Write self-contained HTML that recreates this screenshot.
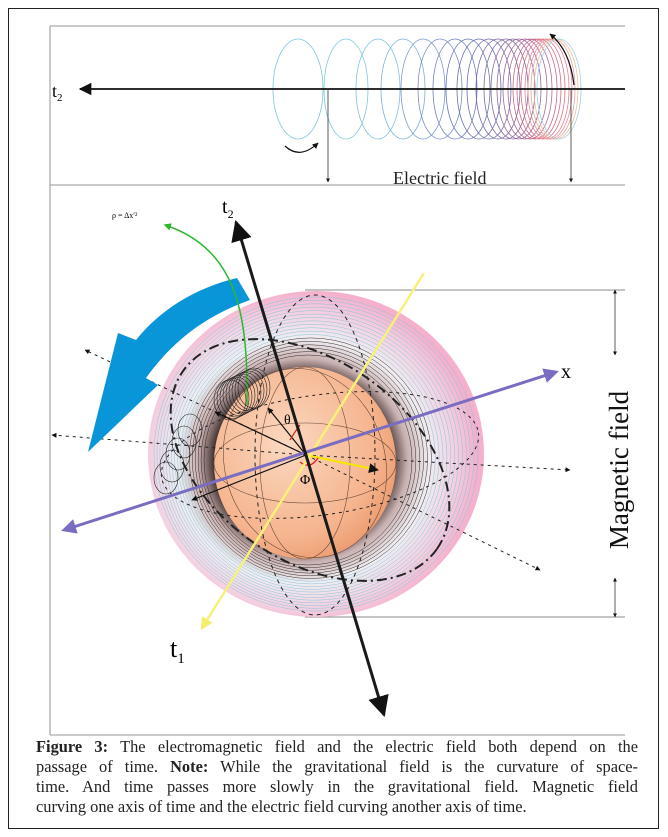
<!DOCTYPE html>
<html><head><meta charset="utf-8"><style>
body{margin:0;background:#fff;width:668px;height:837px;overflow:hidden;position:relative;font-family:"Liberation Serif",serif}
#frame{position:absolute;left:8px;top:8px;width:651px;height:821px;border:1.5px solid #222;box-sizing:border-box}
svg{position:absolute;left:0;top:0}
.cap{position:absolute;left:36px;width:602px;font-size:16.4px;color:#222;line-height:20px;text-align:justify;text-align-last:justify;white-space:nowrap}
</style></head><body>
<div id="frame"></div>
<svg width="668" height="837" viewBox="0 0 668 837">
<defs>
<radialGradient id="halo" cx="0.46" cy="0.52" r="0.52">
<stop offset="0.5" stop-color="#3a2a28"/><stop offset="0.6" stop-color="#c8b0b0"/><stop offset="0.72" stop-color="#eeeef2"/><stop offset="0.88" stop-color="#f3cfe0"/><stop offset="1" stop-color="#f4b0cc"/></radialGradient>
<radialGradient id="sph" cx="0.4" cy="0.4" r="0.7">
<stop offset="0" stop-color="#fbd8c0"/><stop offset="0.7" stop-color="#f5b48e"/><stop offset="1" stop-color="#e99466"/></radialGradient>
<marker id="ah" viewBox="0 0 10 10" refX="9" refY="5" markerWidth="7" markerHeight="7" orient="auto-start-reverse"><path d="M0,0L10,5L0,10z" fill="#111"/></marker>
<marker id="ahs" viewBox="0 0 10 10" refX="9" refY="5" markerWidth="5" markerHeight="5" orient="auto-start-reverse"><path d="M0,0L10,5L0,10z" fill="#111"/></marker>
<marker id="ahp" viewBox="0 0 10 10" refX="8" refY="5" markerWidth="5" markerHeight="5" orient="auto-start-reverse"><path d="M0,0L10,5L0,10z" fill="#7a6cc0"/></marker>
<marker id="ahy" viewBox="0 0 10 10" refX="8" refY="5" markerWidth="5" markerHeight="5" orient="auto-start-reverse"><path d="M0,0L10,5L0,10z" fill="#f5ee6a"/></marker>
<marker id="ahg" viewBox="0 0 10 10" refX="8" refY="5" markerWidth="5" markerHeight="5" orient="auto"><path d="M0,0L10,5L0,10z" fill="#2eb82e"/></marker>
</defs>
<g stroke="#aaa" stroke-width="1.3" fill="none">
<path d="M50,26V735M50,26H625M50,185H625M50,735H625"/>
</g>
<g id="coils" fill="none" stroke-width="0.8"></g>
<line x1="625" y1="89" x2="80" y2="89" stroke="#111" stroke-width="1.8" marker-end="url(#ah)"/>
<text x="52" y="97" font-size="18">t<tspan font-size="11" dy="4">2</tspan></text>
<line x1="328" y1="89" x2="328" y2="182" stroke="#333" stroke-width="0.8" marker-end="url(#ahs)"/>
<line x1="571" y1="89" x2="571" y2="182" stroke="#333" stroke-width="0.8" marker-end="url(#ahs)"/>
<text x="393" y="184" font-size="18" fill="#222">Electric field</text>
<path d="M285,146Q300,160 318,143" stroke="#111" fill="none" stroke-width="1.2" marker-end="url(#ahs)"/>
<path d="M574,85Q570,50 550,34" stroke="#111" fill="none" stroke-width="1.2" marker-end="url(#ahs)"/>

<g stroke="#333" stroke-width="0.8" fill="none">
<path d="M305,290H625M305,617H625" stroke="#666"/>
<line x1="615" y1="290" x2="615" y2="355" marker-start="url(#ahs)" marker-end="url(#ahs)"/>
<line x1="615" y1="578" x2="615" y2="617" marker-start="url(#ahs)" marker-end="url(#ahs)"/>
</g>
<text transform="translate(628,470) rotate(-90)" text-anchor="middle" font-size="27" fill="#111">Magnetic field</text>
<ellipse cx="316" cy="454" rx="168" ry="163" fill="url(#halo)"/>
<g id="rings" fill="none"></g>
<ellipse cx="305" cy="463" rx="91" ry="96" fill="url(#sph)"/>
<g fill="none" stroke="#6a4a3a" stroke-width="0.6">
<ellipse cx="305" cy="463" rx="91" ry="40"/><ellipse cx="305" cy="463" rx="45" ry="96"/>
<ellipse cx="305" cy="463" rx="80" ry="96" transform="rotate(-18 305 463)"/>
</g>
<g fill="none" stroke="#222" stroke-width="2" stroke-dasharray="10 4 2 4">
<ellipse cx="310" cy="460" rx="155" ry="100" transform="rotate(35 310 460)"/>
<ellipse cx="320" cy="455" rx="160" ry="60" transform="rotate(-8 320 455)" stroke-width="1" stroke-dasharray="3 4"/>
<ellipse cx="315" cy="455" rx="60" ry="160" stroke-width="1" stroke-dasharray="4 4"/>
</g>
<g stroke="#222" stroke-width="1" stroke-dasharray="3 4" fill="none">
<line x1="306" y1="455" x2="52" y2="435" marker-end="url(#ahs)"/>
<line x1="306" y1="455" x2="85" y2="350" marker-end="url(#ahs)"/>
<line x1="306" y1="455" x2="570" y2="470" marker-end="url(#ahs)"/>
<line x1="306" y1="455" x2="540" y2="570" marker-end="url(#ahs)"/>
</g>
<path d="M237,278C195,288 160,310 136,340L118,333L88,452L158,385L146,378C170,345 200,318 250,300Z" fill="#0996d8"/>
<path d="M247,405C248,320 240,250 165,225" stroke="#2eb82e" stroke-width="1.5" fill="none" marker-end="url(#ahg)"/>
<text x="112" y="218" font-size="8">ρ = Δx′²</text>
<g id="smallcoils" fill="none" stroke="#222" stroke-width="0.6"></g>
<g stroke="#111" stroke-width="1.2">
<line x1="306" y1="455" x2="215" y2="412" marker-end="url(#ahs)"/>
<line x1="306" y1="455" x2="268" y2="408" marker-end="url(#ahs)"/>
<line x1="306" y1="455" x2="192" y2="500" marker-end="url(#ahs)"/>
</g>
<line x1="306" y1="455" x2="378" y2="470" stroke="#f5e800" stroke-width="2" marker-end="url(#ahs)"/>
<path d="M290,440Q296,430 300,425M300,462Q310,470 318,458" stroke="#e02020" fill="none" stroke-width="1.3"/>
<text x="284" y="424" font-size="14">θ</text>
<text x="300" y="484" font-size="14">Φ</text>
<line x1="424" y1="273" x2="202" y2="628" stroke="#f7f07a" stroke-width="2.5" marker-end="url(#ahy)"/>
<text x="170" y="657" font-size="26">t<tspan font-size="15" dy="6">1</tspan></text>
<line x1="64" y1="530" x2="556" y2="372" stroke="#7a6cc0" stroke-width="3" marker-start="url(#ahp)" marker-end="url(#ahp)"/>
<text x="561" y="378" font-size="20">x</text>
<line x1="236" y1="222" x2="384" y2="715" stroke="#1a1a1a" stroke-width="3" marker-start="url(#ah)" marker-end="url(#ah)"/>
<text x="222" y="213" font-size="20">t<tspan font-size="12" dy="5">2</tspan></text>
</svg>
<div class="cap" style="top:737px"><b>Figure 3:</b> The electromagnetic field and the electric field both depend on the</div>
<div class="cap" style="top:757px">passage of time. <b>Note:</b> While the gravitational field is the curvature of space-</div>
<div class="cap" style="top:777px">time. And time passes more slowly in the gravitational field. Magnetic field</div>
<div class="cap" style="top:797px;text-align-last:left">curving one axis of time and the electric field curving another axis of time.</div>
<script>
const NS='http://www.w3.org/2000/svg';
const coilX=[298,346,378,403,423,440,455,468,479,489,498,506,513,519,525,530,535,539,543,547,550,553,556,559];
const coilColors=['#7cc8e0','#7cc8e0','#80c0e0','#78b0d8','#7a9cd0','#7a8cc8','#7080c0','#6878b8','#6a70b0','#7070b0','#7868a8','#8068a8','#8868a0','#9868a0','#a86898','#b86890','#c86888','#d86880','#e07080','#e88090','#e89098','#e8a0a0','#f0c090','#9ad0e8'];
const coils=document.getElementById('coils');
coilX.forEach((x,i)=>{const e=document.createElementNS(NS,'ellipse');


e.setAttribute('cx',x);e.setAttribute('cy',89);e.setAttribute('rx',i==0?25:22);e.setAttribute('ry',50);e.setAttribute('stroke',coilColors[i]);coils.appendChild(e);});
const rings=document.getElementById('rings');
for(let k=0;k<18;k++){const e=document.createElementNS(NS,'ellipse');


const t=k/17;e.setAttribute('cx',316-t*8);e.setAttribute('cy',454+t*6);e.setAttribute('rx',162-t*58);e.setAttribute('ry',157-t*52);
e.setAttribute('stroke',t<0.7?'#8cc4d8':'#3a2a28');e.setAttribute('stroke-width',0.5);rings.appendChild(e);}
const sc=document.getElementById('smallcoils');
for(let k=0;k<14;k++){const e=document.createElementNS(NS,'ellipse');


const x=k<9?230+k*3:190-(k-9)*6, y=k<9?400-k*1.5:430+(k-9)*12;
e.setAttribute('cx',x);e.setAttribute('cy',y);e.setAttribute('rx',k<9?16:12);e.setAttribute('ry',k<9?20:16);sc.appendChild(e);}
</script>
</body></html>
